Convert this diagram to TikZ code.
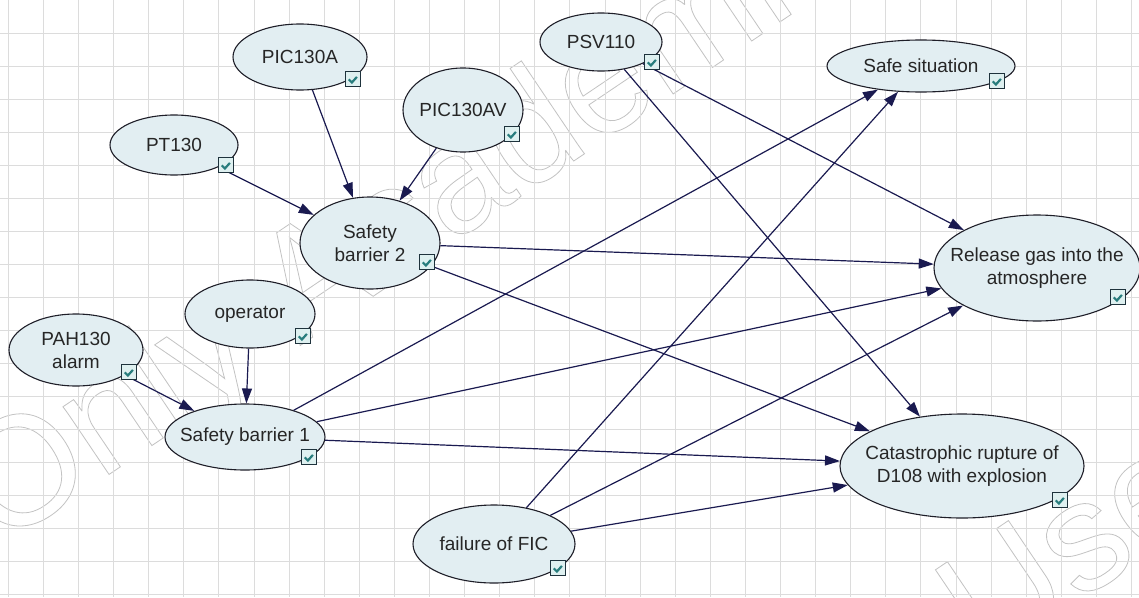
\documentclass[tikz,border=0pt]{standalone}
\usepackage{fontspec}
\setmainfont{Liberation Sans}
\usetikzlibrary{shapes.geometric,arrows.meta}

\definecolor{nodefill}{RGB}{226,238,242}
\definecolor{nodeline}{RGB}{30,30,40}
\definecolor{edgec}{RGB}{26,26,80}
\definecolor{txtc}{RGB}{38,38,38}
\definecolor{boxline}{RGB}{30,50,60}
\definecolor{boxfill}{RGB}{222,240,240}
\definecolor{tickc}{RGB}{40,125,125}
\definecolor{gridc}{RGB}{220,220,220}
\definecolor{wmc}{RGB}{195,195,195}

\newcommand{\nodefont}{\fontsize{19}{23}\selectfont}
% stroke-only lettering (PDF text rendering mode 1)
\newcommand{\hollow}[1]{\special{pdf:literal direct 1 Tr 0.8 w}#1\special{pdf:literal direct 0 Tr}}

\tikzset{
  bn/.style={ellipse, draw=nodeline, line width=1.1pt, fill=nodefill, inner sep=0pt},
  lab/.style={font=\nodefont, text=txtc, align=center, inner sep=0pt},
  edge/.style={draw=edgec, line width=1.2pt, -{Triangle[length=15pt,width=10pt]}},
  chk/.style={draw=boxline, fill=boxfill, line width=1.1pt, minimum size=15pt, inner sep=0pt,
    path picture={\draw[tickc, line width=2.2pt]
      ([shift={(3.2pt,-7.8pt)}]path picture bounding box.north west) -- ++(3.2pt,-3.2pt) -- ++(5pt,5.6pt);}},
  wm/.style={font=\fontsize{155}{155}\selectfont, text=wmc, inner sep=0pt}
}

\begin{document}
\begin{tikzpicture}[x=1pt,y=-1pt]
  \useasboundingbox (0,0) rectangle (1139,597);
  \fill[white] (0,0) rectangle (1139,597);

  % outlined watermark lettering
  \begin{scope}
    \clip (0,0) rectangle (1139,597);
    \node[wm, rotate=34, anchor=base west] (wmA) at (0,548) {\hollow{Only Academic Use}};
    \node[wm, rotate=34, anchor=base west] (wmB) at (985,665) {\hollow{Use}};
  \end{scope}

  % background grid
  \foreach \i in {0,...,32} \draw[gridc, line width=0.8pt] ({8.2+35.1*\i},0) -- ++(0,597);
  \foreach \j in {1,...,18} \draw[gridc, line width=0.8pt] (0,{33*\j}) -- ++(1139,0);

  % network nodes
  \node[bn, minimum width=134, minimum height=66, label={[lab]center:PIC130A}] (pic130a) at (300,57) {};
  \node[bn, minimum width=128, minimum height=60, label={[lab]center:PT130}] (pt130) at (174,145) {};
  \node[bn, minimum width=120, minimum height=84, label={[lab]center:PIC130AV}] (pic130av) at (463,110) {};
  \node[bn, minimum width=122, minimum height=58, label={[lab]center:PSV110}] (psv110) at (601,42) {};
  \node[bn, minimum width=188, minimum height=52, label={[lab]center:Safe situation}] (safe) at (921,66) {};
  \node[bn, minimum width=140, minimum height=92, label={[lab]center:Safety\\barrier 2}] (sb2) at (370,243) {};
  \node[bn, minimum width=206, minimum height=106, label={[lab]center:Release gas into the\\atmosphere}] (rel) at (1037,268) {};
  \node[bn, minimum width=130, minimum height=68, label={[lab]center:operator}] (oper) at (250,314) {};
  \node[bn, minimum width=134, minimum height=72, label={[lab]center:PAH130\\alarm}] (pah) at (76,350) {};
  \node[bn, minimum width=160, minimum height=66, label={[lab]center:Safety barrier 1}] (sb1) at (245,437) {};
  \node[bn, minimum width=162, minimum height=78, label={[lab]center:failure of FIC}] (fic) at (494,544) {};
  \node[bn, minimum width=244, minimum height=104, label={[lab]center:Catastrophic rupture of\\D108 with explosion}] (cat) at (962,466) {};

  % causal links
  \draw[edge] (pic130a) -- (sb2);
  \draw[edge] (pt130) -- (sb2);
  \draw[edge] (pic130av) -- (sb2);
  \draw[edge] (oper) -- (sb1);
  \draw[edge] (pah) -- (sb1);
  \draw[edge] (sb2) -- (rel);
  \draw[edge] (sb2) -- (cat);
  \draw[edge] (sb1) -- (safe);
  \draw[edge] (sb1) -- (rel);
  \draw[edge] (sb1) -- (cat);
  \draw[edge] (psv110) -- (rel);
  \draw[edge] (psv110) -- (cat);
  \draw[edge] (fic) -- (safe);
  \draw[edge] (fic) -- (rel);
  \draw[edge] (fic) -- (cat);

  % state check boxes
  \node[chk] (pic130a-c) at (353,79) {};
  \node[chk] (pt130-c) at (226,165) {};
  \node[chk] (pic130av-c) at (512,134) {};
  \node[chk] (psv110-c) at (652,62) {};
  \node[chk] (safe-c) at (997,81) {};
  \node[chk] (sb2-c) at (427,262) {};
  \node[chk] (rel-c) at (1118,297) {};
  \node[chk] (oper-c) at (303,336) {};
  \node[chk] (pah-c) at (129,372) {};
  \node[chk] (sb1-c) at (309,457) {};
  \node[chk] (fic-c) at (558,568) {};
  \node[chk] (cat-c) at (1060,500) {};
\end{tikzpicture}
\end{document}
